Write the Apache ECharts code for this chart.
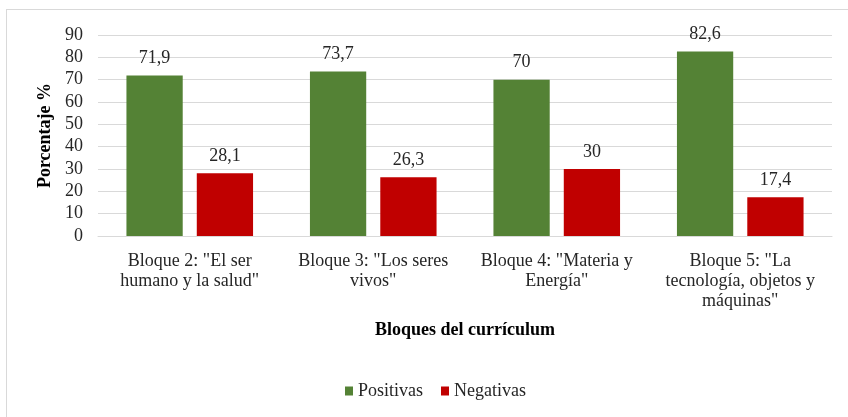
<!DOCTYPE html>
<html><head><meta charset="utf-8">
<script src="https://cdn.jsdelivr.net/npm/echarts@6/dist/echarts.min.js"></script>
<style>
html,body{margin:0;padding:0;background:#fff;}
#frame{position:absolute;left:6px;top:9px;width:900px;height:500px;border:1px solid #D9D9D9;}
#c{position:absolute;left:0;top:0;width:848px;height:417px;}
</style></head>
<body><div id="frame"></div><div id="c"></div>
<script>
const categories = ['Bloque 2: "El ser\nhumano y la salud"', 'Bloque 3: "Los seres\nvivos"', 'Bloque 4: "Materia y\nEnergía"', 'Bloque 5: "La\ntecnología, objetos y\nmáquinas"'];
const positivas = [71.9, 73.7, 70, 82.6];
const negativas = [28.1, 26.3, 30, 17.4];
const yTicks = {min: 0, max: 90, interval: 10};

const font = 'Liberation Serif';
const chart = echarts.init(document.getElementById('c'));
const lbl = {show: true, position: 'top', distance: 8, color: '#262626', fontFamily: font, fontSize: 18,
  formatter: p => String(p.value).replace('.', ',')};
chart.setOption({
  animation: false,
  textStyle: {fontFamily: font},
  grid: {left: 98, right: 16, top: 35, bottom: 181, containLabel: false},
  legend: {bottom: 17, left: 345, itemWidth: 8, itemHeight: 9, itemGap: 18,
    textStyle: {fontFamily: font, fontSize: 18, color: '#262626', padding: [0, 0, 0, 0]},
    icon: 'rect', padding: 0, data: ['Positivas', 'Negativas']},
  xAxis: {type: 'category', data: categories,
    name: 'Bloques del currículum', nameLocation: 'middle', nameGap: 85,
    nameTextStyle: {fontFamily: font, fontSize: 18, fontWeight: 'bold', color: '#000'},
    axisLine: {show: true, lineStyle: {color: '#D9D9D9'}}, axisTick: {show: false},
    axisLabel: {fontFamily: font, fontSize: 18, color: '#262626', lineHeight: 20, margin: 15, interval: 0}},
  yAxis: {type: 'value', min: yTicks.min, max: yTicks.max, interval: yTicks.interval,
    name: 'Porcentaje %', nameLocation: 'middle', nameGap: 38, nameRotate: 90,
    nameTextStyle: {fontFamily: font, fontSize: 18, fontWeight: 'bold', color: '#000'},
    axisLabel: {fontFamily: font, fontSize: 18, color: '#262626', margin: 15},
    axisLine: {show: false}, axisTick: {show: false},
    splitLine: {lineStyle: {color: '#D9D9D9', width: 1}}},
  series: [
    {name: 'Positivas', type: 'bar', data: positivas, itemStyle: {color: '#548235'},
     barGap: '25%', barCategoryGap: '31%', label: lbl},
    {name: 'Negativas', type: 'bar', data: negativas, itemStyle: {color: '#C00000'},
     barGap: '25%', barCategoryGap: '31%', label: lbl}
  ]
});
</script></body></html>
